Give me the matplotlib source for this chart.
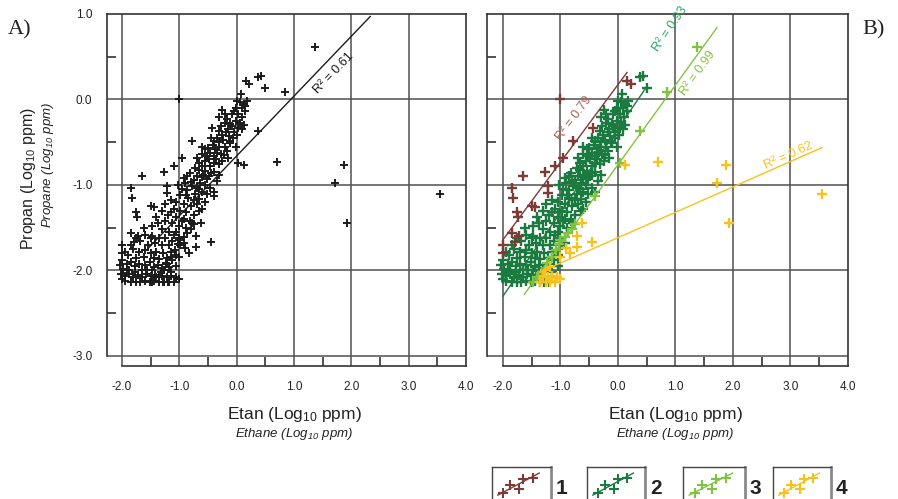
import numpy as np
import matplotlib
matplotlib.use("Agg")
import matplotlib.pyplot as plt

plt.rcParams['font.family'] = ['Liberation Sans', 'DejaVu Sans']
plt.rcParams['axes.unicode_minus'] = False
plt.rcParams['mathtext.default'] = 'regular'

# ---------------------------------------------------------------------------
# Log10 ethane (x) vs log10 propane (y), split into four sample groups
# ---------------------------------------------------------------------------
g1_x = [-1.01, 0.16, 0.22, -0.78, -0.96, -1.10, -1.27, -1.65, -1.22, -1.22, -1.84,
        -1.83, -1.50, -1.44, -1.76, -1.74, -1.84, -1.72, -1.79, -2.00, -2.00, -0.43]
g1_y = [0.00, 0.22, 0.18, -0.49, -0.69, -0.78, -0.85, -0.89, -1.01, -1.09, -1.03,
        -1.15, -1.25, -1.26, -1.32, -1.37, -1.56, -1.60, -1.67, -1.70, -1.79, -0.33]

g2_x = [0.07, 0.38, 0.43, 0.50, 0.12, 0.15, 0.05,
        -0.02, 0.09, 0.15, 0.03, -0.08, -0.20, 0.10, -0.05,
        -0.17, -0.02, -0.11, 0.03, 0.09, -0.28, -0.08, -0.20, 0.06,
        0.01, -0.14, -0.31, -0.34, -0.23, -0.06, -0.18, -0.26, -0.40, -0.12,
        -0.11, -0.20, -0.31, -0.37, -0.46, -0.28, -0.545, -0.60, -0.60, -0.17, -0.35, -0.42, -0.50,
        -0.40, -0.49, -0.40, -0.31, -0.66, -0.72, -0.55, -0.36, -0.25, -0.60, -0.46,
        -0.66, -0.545, -0.49, -0.81, -0.86, -0.70, -0.61, -0.52, -0.40, -0.75, -0.35,
        -0.64, -0.55, -0.46, -0.70, -0.78, -0.90, -0.86, -0.60, -0.95, -0.72, -0.40,
        -0.98, -0.85, -0.75, -0.65, -0.55, -1.05, -0.92, -0.80, -1.15,
        -1.10, -0.98, -0.88, -0.75, -0.65, -1.20, -1.05, -0.92, -1.30,
        -1.25, -1.12, -1.00, -0.88, -0.78, -1.38, -1.30, -1.18, -1.05, -0.95,
        -1.60, -1.48, -1.36, -1.25, -1.12, -1.00, -0.92, -1.68, -1.42, -1.30, -1.18, -1.55,
        -1.80, -1.70, -1.60, -1.50, -1.40, -1.28, -1.15, -1.05, -1.90, -1.75, -1.62, -1.45, -1.35, -1.22,
        -2.00, -1.92, -1.85, -1.78, -1.70, -1.60, -1.52, -1.45, -1.38, -1.30, -1.22, -1.98, -1.88,
        -1.66, -1.56, -2.03,
        -2.02, -1.95, -1.88, -1.80, -1.72, -1.65, -1.58, -1.50, -1.42, -1.35, -1.95, -1.85, -1.75,
        -1.68, -1.60, -1.52, -1.44, -1.36, -1.28, -1.20, -2.00, -1.92, -1.78, -1.48,
        -0.30, -0.25, 0.00, 0.18, -0.15, -0.05, 0.12, -0.45, -0.30, -0.02,
        -0.22, -0.52, -0.70, -0.15, -0.58, -0.45, -0.30, -0.92, -0.80, -0.66,
        -0.52, -1.02, -0.88, -0.70, -0.60, -1.25, -1.15, -0.82, -1.40, -1.48,
        -1.10, -0.98, -1.50, -1.62, -1.75, -1.85, -1.95, -1.12, -1.05, -1.15]
g2_y = [0.06, 0.26, 0.27, 0.14, -0.05, -0.08, -0.03,
        -0.10, -0.10, -0.14, -0.17, -0.17, -0.17, -0.20, -0.14,
        -0.23, -0.25, -0.29, -0.33, -0.35, -0.31, -0.31, -0.27, -0.28,
        -0.41, -0.43, -0.37, -0.45, -0.47, -0.45, -0.38, -0.42, -0.48, -0.49,
        -0.51, -0.55, -0.55, -0.58, -0.62, -0.64, -0.58, -0.56, -0.64, -0.60, -0.62, -0.53, -0.57,
        -0.66, -0.70, -0.74, -0.76, -0.74, -0.80, -0.72, -0.70, -0.72, -0.78, -0.78,
        -0.82, -0.84, -0.90, -0.86, -0.90, -0.89, -0.91, -0.93, -0.85, -0.94, -0.95,
        -0.98, -1.00, -1.03, -1.03, -1.01, -0.98, -1.06, -1.08, -1.05, -1.10, -1.08,
        -1.12, -1.15, -1.18, -1.16, -1.20, -1.20, -1.22, -1.25, -1.18,
        -1.28, -1.30, -1.32, -1.35, -1.30, -1.35, -1.38, -1.40, -1.30,
        -1.42, -1.45, -1.48, -1.50, -1.45, -1.45, -1.52, -1.55, -1.55, -1.42,
        -1.58, -1.60, -1.62, -1.62, -1.65, -1.62, -1.68, -1.65, -1.68, -1.70, -1.70, -1.70,
        -1.75, -1.78, -1.76, -1.80, -1.78, -1.80, -1.78, -1.82, -1.82, -1.85, -1.84, -1.85, -1.86, -1.85,
        -1.88, -1.92, -1.90, -1.95, -1.92, -1.94, -1.90, -1.96, -1.93, -1.97, -1.92, -1.98, -2.00,
        -2.00, -1.99, -1.94,
        -2.04, -2.06, -2.04, -2.08, -2.05, -2.08, -2.04, -2.07, -2.05, -2.08, -2.12, -2.14, -2.13,
        -2.14, -2.12, -2.14, -2.12, -2.14, -2.13, -2.14, -2.10, -2.00, -2.02, -2.00,
        -0.20, -0.12, -0.02, -0.02, -0.35, -0.38, -0.30, -0.45, -0.50, -0.55,
        -0.65, -0.66, -0.68, -0.68, -0.88, -0.86, -0.88, -0.92, -0.97, -1.05,
        -1.10, -1.00, -1.12, -1.22, -1.28, -1.22, -1.32, -1.42, -1.38, -1.48,
        -1.58, -1.70, -1.62, -1.50, -1.62, -1.70, -1.78, -1.88, -1.95, -2.02]

g3_x = [1.37, 0.85, 0.38, 0.03, -0.40, -0.75, -0.87, -0.92, -1.00, -1.03, -1.15,
        -1.23, -1.32, -1.41, -1.48, -0.80, -1.08]
g3_y = [0.61, 0.09, -0.37, -0.74, -1.13, -1.46, -1.56, -1.61, -1.64, -1.69, -1.84,
        -1.91, -2.02, -2.08, -2.13, -1.52, -1.76]

g4_x = [-0.63, -0.71, -0.71, -0.45, -0.90, -0.83, -1.01, -1.18, -1.30, -1.22, -1.14,
        -1.06, -1.01, -1.26, -1.18, -1.10, 0.12, 0.70, 1.88, 1.72, 1.93, 3.55, -1.35, -1.27]
g4_y = [-1.44, -1.60, -1.72, -1.67, -1.74, -1.79, -1.84, -1.96, -2.07, -2.08, -2.07,
        -2.08, -2.10, -2.13, -2.13, -2.13, -0.77, -0.73, -0.77, -0.98, -1.45, -1.11, -2.13, -1.99]

group_names = ["1", "2", "3", "4"]
group_colors = ["#7d3b37", "#1b7a40", "#80c343", "#f7c21b"]
label_colors = ["#a8614c", "#2aa862", "#86c340", "#f5c21e"]

# Linear fits: slope, intercept, x-range, R^2
fit_all = (0.70, -0.66, -1.56, 2.33, "0.61")
fits_groups = [(0.907, 0.174, -2.00, 0.157, "0.79"),
               (0.980, -0.340, -2.00, 0.50, "0.93"),
               (0.931, -0.762, -1.63, 1.72, "0.99"),
               (0.297, -1.616, -1.36, 3.55, "0.62")]
fit_label_all = (1.70, 0.31)
fit_label_groups = [(-0.76, -0.22), (0.90, 0.82), (1.38, 0.31), (2.96, -0.66)]

x_major = [-2.0, -1.0, 0.0, 1.0, 2.0, 3.0, 4.0]
x_minor = [-1.5, -0.5, 0.5, 1.5, 2.5, 3.5]
y_major = [-3.0, -2.0, -1.0, 0.0, 1.0]
y_minor = [-2.5, -1.5, -0.5, 0.5]

FW, FH = 898, 499
fig = plt.figure(figsize=(FW / 100, FH / 100), dpi=100)

INK = "#333333"
GRID = "#505050"


def px_axes(l, t, r, b):
    return fig.add_axes([l / FW, 1 - b / FH, (r - l) / FW, (b - t) / FH])


def frame(ax, xleft, show_ylabels):
    ax.set_xlim(xleft, 4.0)
    ax.set_ylim(-3.117, 1.0)
    for yv in y_major[:-1]:
        ax.axhline(yv, color=GRID, lw=1.1, zorder=1)
    for xv in x_major[:-1]:
        ax.axvline(xv, color=GRID, lw=1.1, zorder=1)
    for s in ax.spines.values():
        s.set_color(INK)
        s.set_linewidth(1.2)
    ax.spines['left'].set_bounds(-3.0, 1.0)
    ax.spines['bottom'].set_bounds(-2.0, 4.0)
    ax.set_xticks(x_major)
    ax.set_xticklabels([f"{v:.1f}" for v in x_major])
    ax.set_yticks(y_major)
    ax.set_yticklabels([f"{v:.1f}" for v in y_major])
    ax.set_xticks(x_minor, minor=True)
    ax.set_yticks(y_minor, minor=True)
    ax.tick_params(which='major', length=0, labelsize=8.5, colors='#222222')
    ax.tick_params(axis='y', which='major', pad=10.5, labelleft=show_ylabels)
    ax.tick_params(axis='x', which='major', pad=11)
    ax.tick_params(which='minor', direction='in', length=6.5, width=1.2, color=INK)
    ax.set_facecolor('none')


def fit_line(ax, fit, pos, color, tcolor):
    slope, icpt, x0, x1, r2 = fit
    xs = np.array([x0, x1])
    ax.plot(xs, slope * xs + icpt, color=color, lw=1.0, zorder=4)
    ang = ax.transData.transform_angles(np.array([np.degrees(np.arctan(slope))]),
                                        np.array([pos]))[0]
    ax.text(pos[0], pos[1], f"R\u00b2 = {r2}", rotation=ang, rotation_mode='anchor',
            ha='center', va='center', fontsize=9, color=tcolor, zorder=5)


# ----- panel A: all samples -----
axA = px_axes(107, 14, 466, 366)
frame(axA, -2.262, True)
all_x = g1_x + g2_x + g3_x + g4_x
all_y = g1_y + g2_y + g3_y + g4_y
axA.plot(all_x, all_y, '+', color='#1c1c1c', ms=6, mew=1.4, zorder=3)
fit_line(axA, fit_all, fit_label_all, '#1c1c1c', '#1c1c1c')

# ----- panel B: by group -----
axB = px_axes(487, 14, 848, 366)
frame(axB, -2.278, False)
groups = [(g1_x, g1_y), (g2_x, g2_y), (g3_x, g3_y), (g4_x, g4_y)]
for i in [1, 0, 2, 3]:
    gx, gy = groups[i]
    axB.plot(gx, gy, '+', color=group_colors[i], ms=7, mew=1.7, zorder=3)
for i in range(4):
    fit_line(axB, fits_groups[i], fit_label_groups[i], group_colors[i], label_colors[i])

# ----- axis titles -----
for cx in (294, 675):
    fig.text(cx / FW, 1 - 419 / FH, "Etan (Log$_{10}$ ppm)", ha='center', va='baseline',
             fontsize=12.5, color='#222222')
    fig.text(cx / FW, 1 - 437 / FH, "Ethane (Log$_{10}$ ppm)", ha='center', va='baseline',
             fontsize=9.5, style='italic', color='#222222')
fig.text(29 / FW, 1 - 178 / FH, "Propan (Log$_{10}$ ppm)", rotation=90, ha='center',
         va='center', fontsize=11.5, color='#222222')
fig.text(48 / FW, 1 - 165 / FH, "Propane (Log$_{10}$ ppm)", rotation=90, ha='center',
         va='center', fontsize=9.5, style='italic', color='#222222')

fig.text(8 / FW, 1 - 34 / FH, "A)", family='Liberation Serif', fontsize=16, color='#222222')
fig.text(862 / FW, 1 - 34 / FH, "B)", family='Liberation Serif', fontsize=16, color='#222222')

# ----- group key -----
key_line = ([0.10, 0.80], [0.26, 0.84])
key_x = [0.19, 0.31, 0.46, 0.53, 0.69]
key_y = [0.32, 0.53, 0.42, 0.68, 0.71]
key_boxes = [(492, 551), (587, 645), (683, 745), (773, 831)]
for i, (l, r) in enumerate(key_boxes):
    k = px_axes(l, 467, r, 505)
    k.set_xlim(0, 1)
    k.set_ylim(0, 1)
    k.set_xticks([])
    k.set_yticks([])
    k.plot(*key_line, color=group_colors[i], lw=1.0)
    k.plot(key_x, key_y, '+', color=group_colors[i], ms=6.5, mew=1.5)
    for side in ('left', 'top'):
        k.spines[side].set_color('#444444')
        k.spines[side].set_linewidth(1.0)
    for side in ('right', 'bottom'):
        k.spines[side].set_color('#8a8a8a')
        k.spines[side].set_linewidth(2.0)
    fig.text((r + 5) / FW, 1 - 494 / FH, group_names[i], fontsize=15, fontweight='bold',
             color='#222222', ha='left', va='baseline')

fig.savefig("out.png", dpi=100)
